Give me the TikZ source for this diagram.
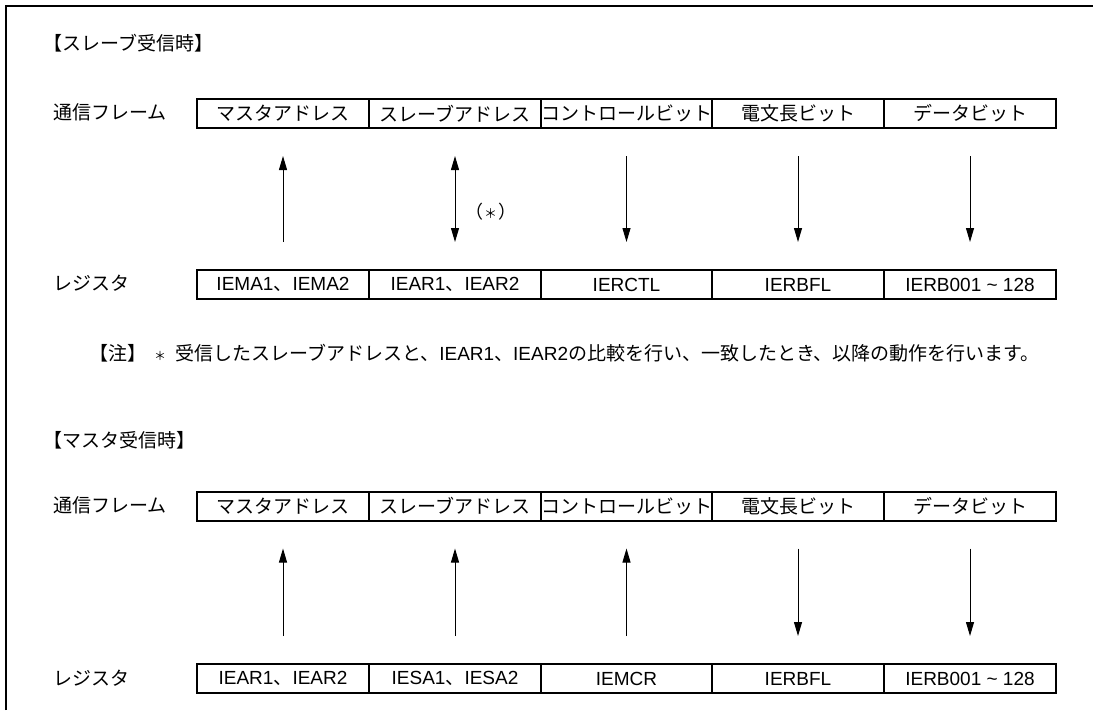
\documentclass[tikz,border=0pt]{standalone}
\usepackage{fontspec}
\setmainfont{Noto Sans CJK JP}
\newfontfamily\lat{Liberation Sans}
\usetikzlibrary{arrows.meta}
\tikzset{
  cell/.style={draw, line width=2pt, minimum width=171.5pt, minimum height=29pt, inner sep=0pt, font=\fontsize{19}{22}\selectfont},
  lbl/.style={anchor=west, inner sep=0pt, font=\fontsize{19}{22}\selectfont},
  arr/.style={line width=1pt, -{Triangle[length=14pt,width=8pt]}, shorten >=27pt, shorten <=27pt},
  darr/.style={line width=1pt, {Triangle[length=14pt,width=8pt]}-{Triangle[length=14pt,width=8pt]}, shorten >=27pt, shorten <=27pt},
}
\begin{document}
\begin{tikzpicture}[x=1pt,y=-1pt]
\useasboundingbox (0,0) rectangle (1093,710);
\draw[line width=2.5pt] (6,710) -- (6,6) -- (1093,6);

% ---- slave receive
\node[lbl] (t1) at (43,43) {【スレーブ受信時】};
\node[lbl] (fl1) at (53,112) {通信フレーム};
\node[lbl] (rl1) at (53,283) {レジスタ};

\node[cell] (a1) at (283,113.5) {マスタアドレス};
\node[cell] (a2) at (455,113.5) {スレーブアドレス};
\node[cell] (a3) at (626.5,113.5) {コントロールビット};
\node[cell] (a4) at (798,113.5) {電文長ビット};
\node[cell] (a5) at (970,113.5) {データビット};

\node[cell] (b1) at (283,284.5) {{\lat IEMA1}、{\lat IEMA2}};
\node[cell] (b2) at (455,284.5) {{\lat IEAR1}、{\lat IEAR2}};
\node[cell] (b3) at (626.5,284.5) {\lat IERCTL};
\node[cell] (b4) at (798,284.5) {\lat IERBFL};
\node[cell] (b5) at (970,284.5) {\lat IERB001 \textasciitilde{} 128};

\draw[arr] (b1.north) -- (a1.south);
\draw[darr] (b2.north) -- (a2.south);
\draw[arr] (a3.south) -- (b3.north);
\draw[arr] (a4.south) -- (b4.north);
\draw[arr] (a5.south) -- (b5.north);
\node[lbl, font=\fontsize{18}{20}\selectfont] (ast) at (465,212) {（\hspace{1pt}{\fontsize{13}{14}\selectfont ＊}\hspace{1pt}）};

\node[lbl] (note) at (89,353) {【注】\hspace{8pt}{\fontsize{12}{12}\selectfont ＊}\hspace{9pt}受信したスレーブアドレスと、{\lat IEAR1}、{\lat IEAR2}の比較を行い、一致したとき、以降の動作を行います。};

% ---- master receive
\node[lbl] (t2) at (43,440) {【マスタ受信時】};
\node[lbl] (fl2) at (53,505) {通信フレーム};
\node[lbl] (rl2) at (53,678) {レジスタ};

\node[cell] (c1) at (283,506) {マスタアドレス};
\node[cell] (c2) at (455,506) {スレーブアドレス};
\node[cell] (c3) at (626.5,506) {コントロールビット};
\node[cell] (c4) at (798,506) {電文長ビット};
\node[cell] (c5) at (970,506) {データビット};

\node[cell] (d1) at (283,678.5) {{\lat IEAR1}、{\lat IEAR2}};
\node[cell] (d2) at (455,678.5) {{\lat IESA1}、{\lat IESA2}};
\node[cell] (d3) at (626.5,678.5) {\lat IEMCR};
\node[cell] (d4) at (798,678.5) {\lat IERBFL};
\node[cell] (d5) at (970,678.5) {\lat IERB001 \textasciitilde{} 128};

\draw[arr] (d1.north) -- (c1.south);
\draw[arr] (d2.north) -- (c2.south);
\draw[arr] (d3.north) -- (c3.south);
\draw[arr] (c4.south) -- (d4.north);
\draw[arr] (c5.south) -- (d5.north);
\end{tikzpicture}
\end{document}
